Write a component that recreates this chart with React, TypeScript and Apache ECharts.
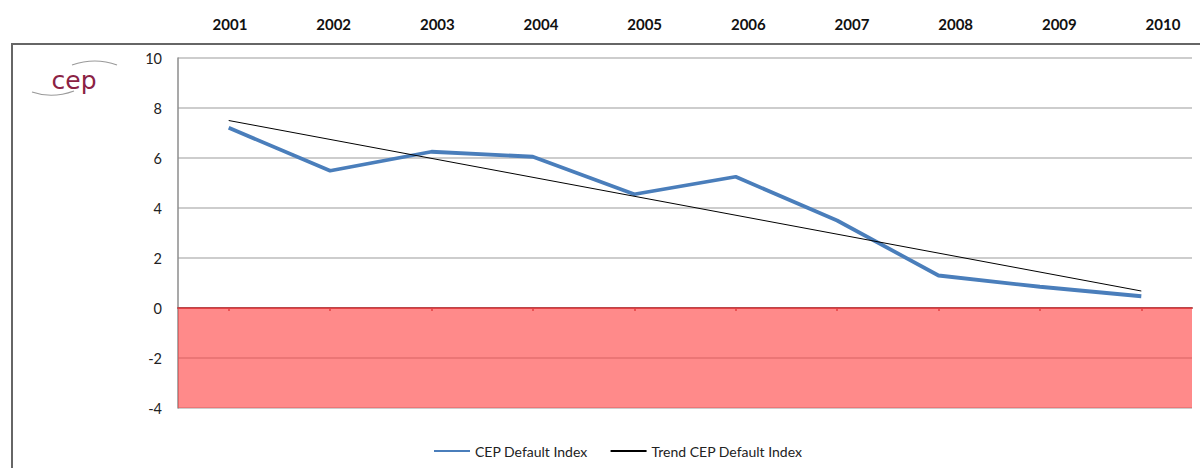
import React, { useEffect, useRef } from "react";
import * as echarts from "echarts";

// Years shown both as header row and as categories on the chart
const years = ["2001", "2002", "2003", "2004", "2005", "2006", "2007", "2008", "2009", "2010"];
// CEP Default Index per year
const defaultIndex = [7.21, 5.49, 6.25, 6.05, 4.55, 5.25, 3.5, 1.3, 0.85, 0.47];
// Linear trend of the index: endpoints for 2001 and 2010
const trendIndex = [7.5, null, null, null, null, null, null, null, null, 0.68];
// Value axis bounds and negative (default) zone
const yMin = -4;
const yMax = 10;
const yStep = 2;
const dangerZone = [0, -4];

const FONT = "Lato, 'Open Sans', sans-serif";

export default function App() {
  const ref = useRef<HTMLDivElement>(null);

  useEffect(() => {
    if (!ref.current) return;
    const chart = echarts.init(ref.current, null, { renderer: "svg" });
    chart.setOption({
      animation: false,
      backgroundColor: "#ffffff",
      textStyle: { fontFamily: FONT },
      grid: [
        { left: 178, right: 8, top: 58, bottom: 60 },
        { left: 230, width: 933, top: 24, height: 1 },
      ],
      legend: {
        left: 433,
        top: 444,
        padding: 0,
        itemWidth: 36,
        itemHeight: 2,
        itemGap: 22,
        textStyle: { fontSize: 14, color: "#222", fontFamily: FONT },
        data: ["CEP Default Index", "Trend CEP Default Index"],
      },
      xAxis: [
        {
          type: "category",
          gridIndex: 0,
          data: years,
          boundaryGap: true,
          axisLine: { onZero: true, lineStyle: { color: "#b8474b", width: 2 } },
          axisTick: { show: true, alignWithLabel: true, length: 3, lineStyle: { color: "#b8474b", width: 1.5 } },
          axisLabel: { show: false },
          splitLine: { show: false },
        },
        {
          type: "category",
          gridIndex: 1,
          position: "top",
          data: years,
          boundaryGap: false,
          axisLine: { show: false },
          axisTick: { show: false },
          axisLabel: {
            fontSize: 15,
            fontWeight: "bold",
            color: "#111",
            margin: 0,
            verticalAlign: "middle",
            fontFamily: FONT,
          },
        },
      ],
      yAxis: [
        {
          type: "value",
          gridIndex: 0,
          min: yMin,
          max: yMax,
          interval: yStep,
          axisLine: { show: true, lineStyle: { color: "#8c8c8c", width: 1.5 } },
          axisTick: { show: false },
          axisLabel: { fontSize: 14.5, color: "#222", margin: 16, fontFamily: FONT },
          splitLine: { show: true, lineStyle: { color: "#bdbdbd", width: 1.5 } },
        },
        { type: "value", gridIndex: 1, show: false },
      ],
      graphic: [
        {
          type: "rect",
          z: -10,
          shape: { x: 12, y: 44, width: 1300, height: 600 },
          style: { fill: "none", stroke: "#666666", lineWidth: 2 },
        },
        {
          type: "bezierCurve",
          shape: { x1: 72, y1: 65, cpx1: 95, cpy1: 57, x2: 117, y2: 65 },
          style: { stroke: "#9a9a9a", lineWidth: 1.2, fill: "none" },
        },
        {
          type: "bezierCurve",
          shape: { x1: 32, y1: 92, cpx1: 52, cpy1: 99, x2: 74, y2: 91 },
          style: { stroke: "#9a9a9a", lineWidth: 1.2, fill: "none" },
        },
        {
          type: "text",
          x: 74,
          y: 80,
          style: {
            text: "cep",
            font: "25px 'DejaVu Sans', sans-serif",
            fill: "#8b2244",
            align: "center",
            verticalAlign: "middle",
          },
        },
      ],
      series: [
        {
          name: "CEP Default Index",
          type: "line",
          xAxisIndex: 0,
          yAxisIndex: 0,
          data: defaultIndex,
          symbol: "none",
          lineStyle: { color: "#4a7ebb", width: 3.8 },
          itemStyle: { color: "#4a7ebb" },
          z: 3,
          markArea: {
            silent: true,
            itemStyle: { color: "rgba(255,60,60,0.6)" },
            data: [[{ yAxis: dangerZone[0] }, { yAxis: dangerZone[1] }]],
          },
        },
        {
          name: "Trend CEP Default Index",
          type: "line",
          xAxisIndex: 0,
          yAxisIndex: 0,
          data: trendIndex,
          connectNulls: true,
          symbol: "none",
          lineStyle: { color: "#000000", width: 1 },
          itemStyle: { color: "#000000" },
          z: 4,
        },
      ],
    });
    return () => chart.dispose();
  }, []);

  return (
    <div
      ref={ref}
      style={{ position: "absolute", left: 0, top: 0, width: 1200, height: 468, background: "#fff" }}
    />
  );
}
